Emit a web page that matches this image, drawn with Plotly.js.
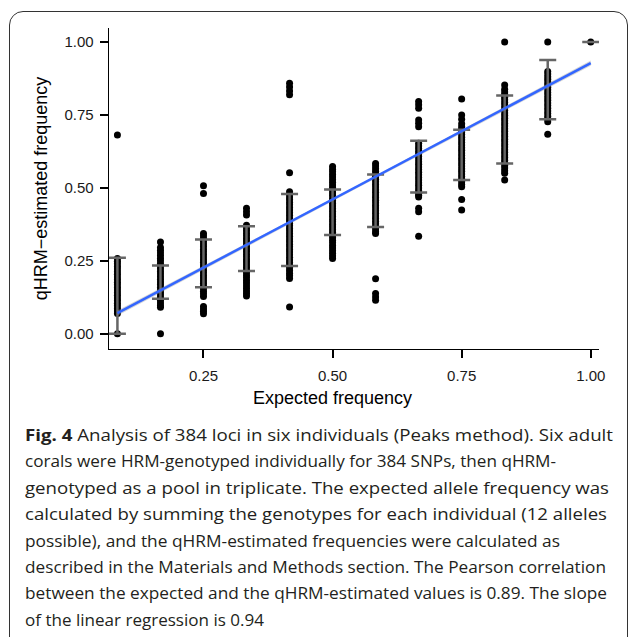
<!DOCTYPE html>
<html>
<head>
<meta charset="utf-8">
<script src="https://cdn.plot.ly/plotly-3.0.1.min.js"></script>
<style>
  html, body { margin: 0; padding: 0; background: #fff; width: 629px; height: 637px; overflow: hidden; }
  #frame { position: absolute; left: 9px; top: 11px; width: 617px; height: 700px; border: 1.5px solid #333; border-radius: 14px; box-sizing: content-box; }
  #chart { position: absolute; left: 0; top: 0; width: 629px; height: 637px; }
  #caption { position: absolute; left: 25px; top: 422px; font-family: "Open Sans", sans-serif; font-size: 16.5px; line-height: 26.4px; color: #231f20; white-space: nowrap; }
  #caption .ln { transform-origin: 0 0; width: max-content; }
  #caption b { font-weight: 700; }
</style>
</head>
<body>
<div id="frame"></div>
<div id="chart"></div>
<div id="caption">
<div class="ln"><b>Fig. 4</b> Analysis of 384 loci in six individuals (Peaks method). Six adult</div>
<div class="ln">corals were HRM-genotyped individually for 384 SNPs, then qHRM-</div>
<div class="ln">genotyped as a pool in triplicate. The expected allele frequency was</div>
<div class="ln">calculated by summing the genotypes for each individual (12 alleles</div>
<div class="ln">possible), and the qHRM-estimated frequencies were calculated as</div>
<div class="ln">described in the Materials and Methods section. The Pearson correlation</div>
<div class="ln">between the expected and the qHRM-estimated values is 0.89. The slope</div>
<div class="ln">of the linear regression is 0.94</div>
</div>
<script>
// Expected frequencies (12 alleles possible)
const expected = [0.0833, 0.1667, 0.25, 0.3333, 0.4167, 0.5, 0.5833, 0.6667, 0.75, 0.8333, 0.9167, 1.0];

// qHRM-estimated frequencies per expected-frequency column
const col1 = [0.681, 0.258, 0.249, 0.240, 0.231, 0.222, 0.213, 0.204, 0.195, 0.186, 0.177, 0.168, 0.159, 0.150, 0.141, 0.132, 0.123, 0.114, 0.105, 0.096, 0.087, 0.078, 0.070, 0.0];
const col2 = [0.315, 0.296, 0.286, 0.277, 0.268, 0.259, 0.250, 0.241, 0.232, 0.223, 0.214, 0.205, 0.196, 0.187, 0.178, 0.169, 0.160, 0.151, 0.142, 0.133, 0.124, 0.115, 0.106, 0.097, 0.091, 0.0];
const col3 = [0.507, 0.481, 0.344, 0.335, 0.326, 0.317, 0.308, 0.299, 0.290, 0.281, 0.272, 0.263, 0.254, 0.245, 0.236, 0.227, 0.218, 0.209, 0.200, 0.191, 0.182, 0.173, 0.164, 0.155, 0.146, 0.137, 0.128, 0.094, 0.085, 0.077, 0.069];
const col4 = [0.430, 0.418, 0.407, 0.372, 0.363, 0.354, 0.345, 0.336, 0.327, 0.318, 0.309, 0.300, 0.291, 0.282, 0.273, 0.264, 0.255, 0.246, 0.237, 0.228, 0.219, 0.210, 0.201, 0.192, 0.183, 0.174, 0.165, 0.156, 0.147, 0.138, 0.130];
const col5 = [0.859, 0.846, 0.832, 0.819, 0.552, 0.487, 0.478, 0.469, 0.460, 0.451, 0.442, 0.433, 0.424, 0.415, 0.406, 0.397, 0.388, 0.379, 0.370, 0.361, 0.352, 0.343, 0.334, 0.325, 0.316, 0.307, 0.298, 0.289, 0.280, 0.271, 0.262, 0.253, 0.244, 0.235, 0.226, 0.217, 0.208, 0.199, 0.190, 0.092];
const col6 = [0.573, 0.564, 0.555, 0.546, 0.537, 0.528, 0.519, 0.510, 0.501, 0.492, 0.483, 0.474, 0.465, 0.456, 0.447, 0.438, 0.429, 0.420, 0.411, 0.402, 0.393, 0.384, 0.375, 0.366, 0.357, 0.348, 0.339, 0.330, 0.321, 0.312, 0.303, 0.294, 0.285, 0.276, 0.267, 0.258];
const col7 = [0.584, 0.575, 0.566, 0.557, 0.548, 0.539, 0.530, 0.521, 0.512, 0.503, 0.494, 0.485, 0.476, 0.467, 0.458, 0.449, 0.440, 0.431, 0.422, 0.413, 0.404, 0.395, 0.386, 0.377, 0.368, 0.359, 0.350, 0.344, 0.189, 0.138, 0.126, 0.115];
const col8 = [0.796, 0.785, 0.773, 0.733, 0.722, 0.710, 0.653, 0.644, 0.635, 0.626, 0.617, 0.608, 0.599, 0.590, 0.581, 0.572, 0.563, 0.554, 0.545, 0.536, 0.527, 0.518, 0.509, 0.500, 0.491, 0.482, 0.475, 0.469, 0.430, 0.418, 0.334];
const col9 = [0.805, 0.750, 0.735, 0.720, 0.710, 0.701, 0.692, 0.683, 0.674, 0.665, 0.656, 0.647, 0.638, 0.629, 0.620, 0.611, 0.602, 0.593, 0.584, 0.575, 0.566, 0.557, 0.548, 0.539, 0.530, 0.521, 0.512, 0.504, 0.460, 0.424];
const col10 = [1.0, 0.853, 0.838, 0.829, 0.820, 0.811, 0.802, 0.793, 0.784, 0.775, 0.766, 0.757, 0.748, 0.739, 0.730, 0.721, 0.712, 0.703, 0.694, 0.685, 0.676, 0.667, 0.658, 0.649, 0.640, 0.631, 0.622, 0.613, 0.604, 0.595, 0.586, 0.577, 0.568, 0.559, 0.550, 0.527];
const col11 = [1.0, 0.899, 0.890, 0.881, 0.872, 0.863, 0.854, 0.845, 0.836, 0.827, 0.818, 0.809, 0.800, 0.791, 0.782, 0.773, 0.764, 0.755, 0.746, 0.737, 0.727, 0.684];
const col12 = [1.0];

// Mean and SD per column (error bars)
const errMean = [0.1305, 0.177, 0.2415, 0.292, 0.3555, 0.417, 0.456, 0.573, 0.613, 0.7005, 0.8365, 1.0];
const errSD   = [0.1305, 0.057, 0.0815, 0.077, 0.1235, 0.078, 0.090, 0.089, 0.086, 0.1165, 0.1015, 0.0];

// Linear regression line and its confidence band
const fitX = [0.0833, 1.0];
const fitY = [0.071, 0.928];
const bandX  = [0.0833, 0.5417, 1.0];
const bandLo = [0.062, 0.494, 0.919];
const bandHi = [0.080, 0.502, 0.937];

const xTicks = [0.25, 0.50, 0.75, 1.00];
const yTicks = [0.00, 0.25, 0.50, 0.75, 1.00];
const xTickText = ["0.25", "0.50", "0.75", "1.00"];
const yTickText = ["0.00", "0.25", "0.50", "0.75", "1.00"];

const cols = [col1, col2, col3, col4, col5, col6, col7, col8, col9, col10, col11, col12];
const px = [], py = [];
cols.forEach((c, i) => c.forEach(v => { px.push(expected[i]); py.push(v); }));

const traces = [
  { type: 'scatter', mode: 'markers', x: px, y: py,
    marker: { color: '#000', size: 7, line: { width: 0 } }, hoverinfo: 'skip' },
  { type: 'scatter', mode: 'markers', x: expected, y: errMean,
    marker: { color: 'rgba(0,0,0,0)', size: 1 },
    error_y: { type: 'data', array: errSD, visible: true, color: '#666666', thickness: 2.5, width: 8.5 },
    hoverinfo: 'skip' },
  { type: 'scatter', mode: 'lines', x: bandX, y: bandLo, line: { width: 0, color: 'rgba(0,0,0,0)' }, hoverinfo: 'skip' },
  { type: 'scatter', mode: 'lines', x: bandX, y: bandHi, fill: 'tonexty', fillcolor: 'rgba(153,153,153,0.4)',
    line: { width: 0, color: 'rgba(0,0,0,0)' }, hoverinfo: 'skip' },
  { type: 'scatter', mode: 'lines', x: fitX, y: fitY, line: { color: '#3366FF', width: 2.5 }, hoverinfo: 'skip' }
];

const fam = 'Liberation Sans, Arial, sans-serif';
const axisFont = { family: fam, size: 15, color: '#1a1a1a' };
const layout = {
  width: 629, height: 637,
  margin: { l: 109, r: 30, t: 28, b: 288, pad: 0 },
  paper_bgcolor: 'rgba(0,0,0,0)', plot_bgcolor: 'rgba(0,0,0,0)',
  showlegend: false,
  xaxis: {
    range: [0.067, 1.016], tickvals: xTicks, ticktext: xTickText,
    showline: true, linecolor: '#000', linewidth: 1.3, showgrid: false, zeroline: false,
    ticks: 'outside', ticklen: 8, tickwidth: 2, tickcolor: '#000',
    ticklabelstandoff: 5,
    tickfont: axisFont
  },
  yaxis: {
    range: [-0.052, 1.048], tickvals: yTicks, ticktext: yTickText,
    showline: true, linecolor: '#000', linewidth: 1.3, showgrid: false, zeroline: false,
    ticks: 'outside', ticklen: 8, tickwidth: 2, tickcolor: '#000',
    ticklabelstandoff: 3,
    tickfont: axisFont,
    title: { text: 'qHRM−estimated frequency', font: { family: fam, size: 18, color: '#000' }, standoff: 12 }
  },
  annotations: [{
    text: 'Expected frequency', xref: 'paper', yref: 'paper',
    x: 0.457, y: -0.1526, xanchor: 'center', yanchor: 'middle', showarrow: false,
    font: { family: fam, size: 18, color: '#000' }
  }]
};

Plotly.newPlot('chart', traces, layout, { staticPlot: true, displayModeBar: false });

// fit each caption line to the width it has in the reference (line end x positions)
const lineEnds = [613, 556, 609, 607, 560, 606, 607, 264];
document.querySelectorAll('#caption .ln').forEach((el, i) => {
  const w = el.getBoundingClientRect().width;
  const s = (lineEnds[i] - 25) / w;
  el.style.transform = 'scaleX(' + s + ')';
});
</script>
</body>
</html>
